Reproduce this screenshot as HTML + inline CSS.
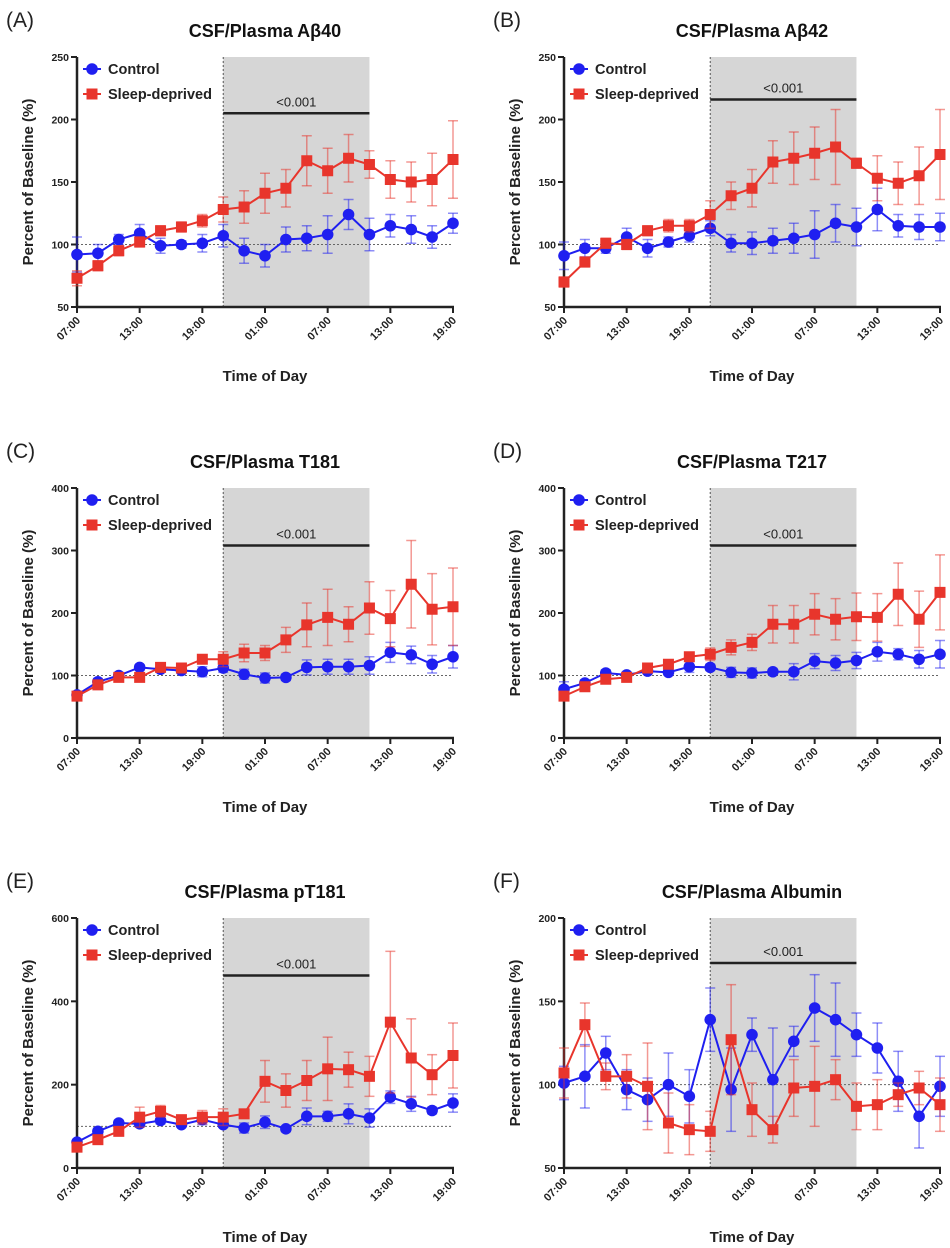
<!DOCTYPE html>
<html><head><meta charset="utf-8">
<style>
html,body{margin:0;padding:0;background:#fff;}
svg{display:block;font-family:"Liberation Sans",Arial,sans-serif;}
</style></head>
<body>
<svg id="fig" width="950" height="1248" viewBox="0 0 950 1248" xmlns="http://www.w3.org/2000/svg"></svg>
<script>
const timeTicks = ["07:00","13:00","19:00","01:00","07:00","13:00","19:00"];
const panelLetters = ["(A)","(B)","(C)","(D)","(E)","(F)"];
const panelTitles = ["CSF/Plasma Aβ40","CSF/Plasma Aβ42","CSF/Plasma T181","CSF/Plasma T217","CSF/Plasma pT181","CSF/Plasma Albumin"];
const yMins = [50,50,0,0,0,50];
const yMaxs = [250,250,400,400,600,200];
const yStepVals = [50,50,100,100,200,50];
const sigLevels = [205,216,308,308,462,173];

const ctrlA = [92,93,104,109,99,100,101,107,95,91,104,105,108,124,108,115,112,106,117];
const ctrlAErr = [14,7,4,7,6,3,7,9,10,9,10,10,15,12,13,9,11,9,8];
const sdA = [73,83,95,102,111,114,119,128,130,141,145,167,159,169,164,152,150,152,168];
const sdAErr = [6,4,4,4,4,4,5,10,13,16,15,20,18,19,11,15,16,21,31];

const ctrlB = [91,97,97,106,97,102,107,113,101,101,103,105,108,117,114,128,115,114,114];
const ctrlBErr = [11,7,4,7,7,4,5,6,7,9,10,12,19,15,15,17,9,10,11];
const sdB = [70,86,101,100,111,115,115,124,139,145,166,169,173,178,165,153,149,155,172];
const sdBErr = [4,4,4,4,4,5,5,11,11,15,17,21,21,30,4,18,17,23,36];

const ctrlC = [69,90,100,113,110,108,106,112,102,96,97,113,114,114,116,137,133,118,130];
const ctrlCErr = [4,5,4,4,4,4,8,7,8,8,5,12,12,12,14,16,14,14,18];
const sdC = [67,85,97,97,113,112,126,126,136,136,157,181,193,182,208,191,246,206,210];
const sdCErr = [4,5,5,5,5,5,5,12,14,12,20,35,45,28,42,45,70,57,62];

const ctrlD = [78,88,104,101,107,105,114,113,105,104,106,106,123,120,124,138,134,126,134];
const ctrlDErr = [12,5,5,4,4,4,9,5,8,8,4,13,12,12,13,15,9,14,22];
const sdD = [67,82,94,97,112,118,130,134,145,153,182,182,198,190,194,193,230,190,233];
const sdDErr = [5,5,5,5,5,5,5,10,12,13,30,30,33,33,38,38,50,45,60];

const ctrlE = [62,88,108,106,114,104,116,104,96,110,94,124,124,130,120,170,154,138,156];
const ctrlEErr = [6,8,6,6,8,6,12,6,12,15,6,20,12,24,22,15,18,8,22];
const sdE = [50,68,88,122,136,116,122,122,130,208,186,210,238,236,220,350,264,224,270];
const sdEErr = [6,6,6,24,14,8,16,20,8,50,40,48,76,42,48,170,94,48,78];

const ctrlF = [101,105,119,97,91,100,93,139,97,130,103,126,146,139,130,122,102,81,99];
const ctrlFErr = [10,19,10,12,13,19,16,19,25,10,31,9,20,22,13,15,18,19,18];
const sdF = [107,136,105,105,99,77,73,72,127,85,73,98,99,103,87,88,94,98,88];
const sdFErr = [15,13,8,13,26,18,15,12,33,16,8,17,24,12,14,15,7,10,16];

const ctrlSeries = [ctrlA,ctrlB,ctrlC,ctrlD,ctrlE,ctrlF];
const ctrlErrs = [ctrlAErr,ctrlBErr,ctrlCErr,ctrlDErr,ctrlEErr,ctrlFErr];
const sdSeries = [sdA,sdB,sdC,sdD,sdE,sdF];
const sdErrs = [sdAErr,sdBErr,sdCErr,sdDErr,sdEErr,sdFErr];

const NS = "http://www.w3.org/2000/svg";
const svg = document.getElementById('fig');
function mk(tag, attrs, parent, text){
  const e = document.createElementNS(NS, tag);
  for (const k in attrs) e.setAttribute(k, attrs[k]);
  if (text !== undefined) e.textContent = text;
  (parent||svg).appendChild(e);
  return e;
}
const BLUE = "#1f1ff0", RED = "#e8352c";
const colOff = [0,487], rowOff = [0,431,861];

for (let p=0;p<6;p++){
  const ox = colOff[p%2], oy = rowOff[Math.floor(p/2)];
  const g = mk('g',{transform:`translate(${ox},${oy})`});
  
  
  const X0=77, X1=453, YT=57, YB=307;
  const xHour = h => X0 + (X1-X0)*h/36;
  const yv = v => YB - (v-yMins[p])/(yMaxs[p]-yMins[p])*(YB-YT);

  const lt = mk('text',{x:6,y:27,'font-size':21,fill:'#222'},g,panelLetters[p]);
  
  
  const tt = mk('text',{x:265,y:37,'font-size':18,'font-weight':'bold','text-anchor':'middle',fill:'#111'},g,panelTitles[p]);
  
  

  // shade
  const sh = mk('rect',{x:xHour(14),y:YT,width:xHour(28)-xHour(14),height:YB-YT,fill:'#d6d6d6'},g);
  
  
  const dl = mk('line',{x1:xHour(14),x2:xHour(14),y1:YT,y2:YB,stroke:'#555','stroke-width':1,'stroke-dasharray':'2,2'},g);
  
  
  // baseline
  const bl = mk('line',{x1:X0,x2:X1,y1:yv(100),y2:yv(100),stroke:'#666','stroke-width':1,'stroke-dasharray':'2,2'},g);
  
  

  // sig bar
  const sb = mk('line',{x1:xHour(14),x2:xHour(28),y1:yv(sigLevels[p]),y2:yv(sigLevels[p]),stroke:'#222','stroke-width':2.5},g);
  
  
  const st = mk('text',{x:(xHour(14)+xHour(28))/2,y:yv(sigLevels[p])-7,'font-size':13,'text-anchor':'middle',fill:'#222'},g,'<0.001');
  
  

  // axes
  const ya = mk('line',{x1:X0,x2:X0,y1:YT,y2:YB+1,stroke:'#222','stroke-width':2.5},g);
  
  
  const xa = mk('line',{x1:X0-1,x2:X1+1,y1:YB,y2:YB,stroke:'#222','stroke-width':2.5},g);
  
  
  for (let v=yMins[p]; v<=yMaxs[p]; v+=yStepVals[p]){
    mk('line',{x1:X0-6,x2:X0,y1:yv(v),y2:yv(v),stroke:'#222','stroke-width':2},g);
    const t = mk('text',{x:X0-8,y:yv(v)+4,'font-size':10.5,'font-weight':'bold','text-anchor':'end',fill:'#222'},g,String(v));
    
    
  }
  timeTicks.forEach((lab,i)=>{
    const x = xHour(i*6);
    mk('line',{x1:x,x2:x,y1:YB,y2:YB+6,stroke:'#222','stroke-width':2},g);
    const t = mk('text',{x:x+4,y:YB+14,'font-size':11,'font-weight':'bold','text-anchor':'end',fill:'#222',transform:`rotate(-45 ${x+4} ${YB+14})`},g,lab);
    
    
  });
  const yl = mk('text',{x:0,y:0,'font-size':15,'font-weight':'bold','text-anchor':'middle',fill:'#222',transform:`translate(33 ${(YT+YB)/2}) rotate(-90)`},g,'Percent of Baseline (%)');
  
  
  const xl = mk('text',{x:265,y:381,'font-size':15,'font-weight':'bold','text-anchor':'middle',fill:'#222'},g,'Time of Day');
  
  

  // series
  const drawSeries = (vals, errs, color, square, name) => {
    const sg = mk('g',{},g);
    
    
    vals.forEach((v,i)=>{
      const x = xHour(i*2), e = errs[i];
      mk('line',{x1:x,x2:x,y1:yv(v+e),y2:yv(v-e),stroke:color,'stroke-width':1.5,opacity:0.5},sg);
      mk('line',{x1:x-5,x2:x+5,y1:yv(v+e),y2:yv(v+e),stroke:color,'stroke-width':1.5,opacity:0.5},sg);
      mk('line',{x1:x-5,x2:x+5,y1:yv(v-e),y2:yv(v-e),stroke:color,'stroke-width':1.5,opacity:0.5},sg);
    });
    mk('polyline',{points:vals.map((v,i)=>xHour(i*2)+','+yv(v)).join(' '),fill:'none',stroke:color,'stroke-width':2},sg);
    vals.forEach((v,i)=>{
      const x = xHour(i*2), y = yv(v);
      const m = square ? mk('rect',{x:x-5.5,y:y-5.5,width:11,height:11,fill:color},sg)
                       : mk('circle',{cx:x,cy:y,r:5.8,fill:color},sg);
      
      
    });
  };
  drawSeries(ctrlSeries[p], ctrlErrs[p], BLUE, false, 'control-series');
  drawSeries(sdSeries[p], sdErrs[p], RED, true, 'sleep-deprived-series');

  // legend
  const lg = mk('g',{},g);
  
  
  mk('line',{x1:83,x2:101,y1:69,y2:69,stroke:BLUE,'stroke-width':2},lg);
  mk('circle',{cx:92,cy:69,r:5.8,fill:BLUE},lg);
  const l1 = mk('text',{x:108,y:74,'font-size':14.5,'font-weight':'bold',fill:'#222'},lg,'Control');
  
  
  mk('line',{x1:83,x2:101,y1:94,y2:94,stroke:RED,'stroke-width':2},lg);
  mk('rect',{x:86.5,y:88.5,width:11,height:11,fill:RED},lg);
  const l2 = mk('text',{x:108,y:99,'font-size':14.5,'font-weight':'bold',fill:'#222'},lg,'Sleep-deprived');
  
  
}
</script>
</body></html>
